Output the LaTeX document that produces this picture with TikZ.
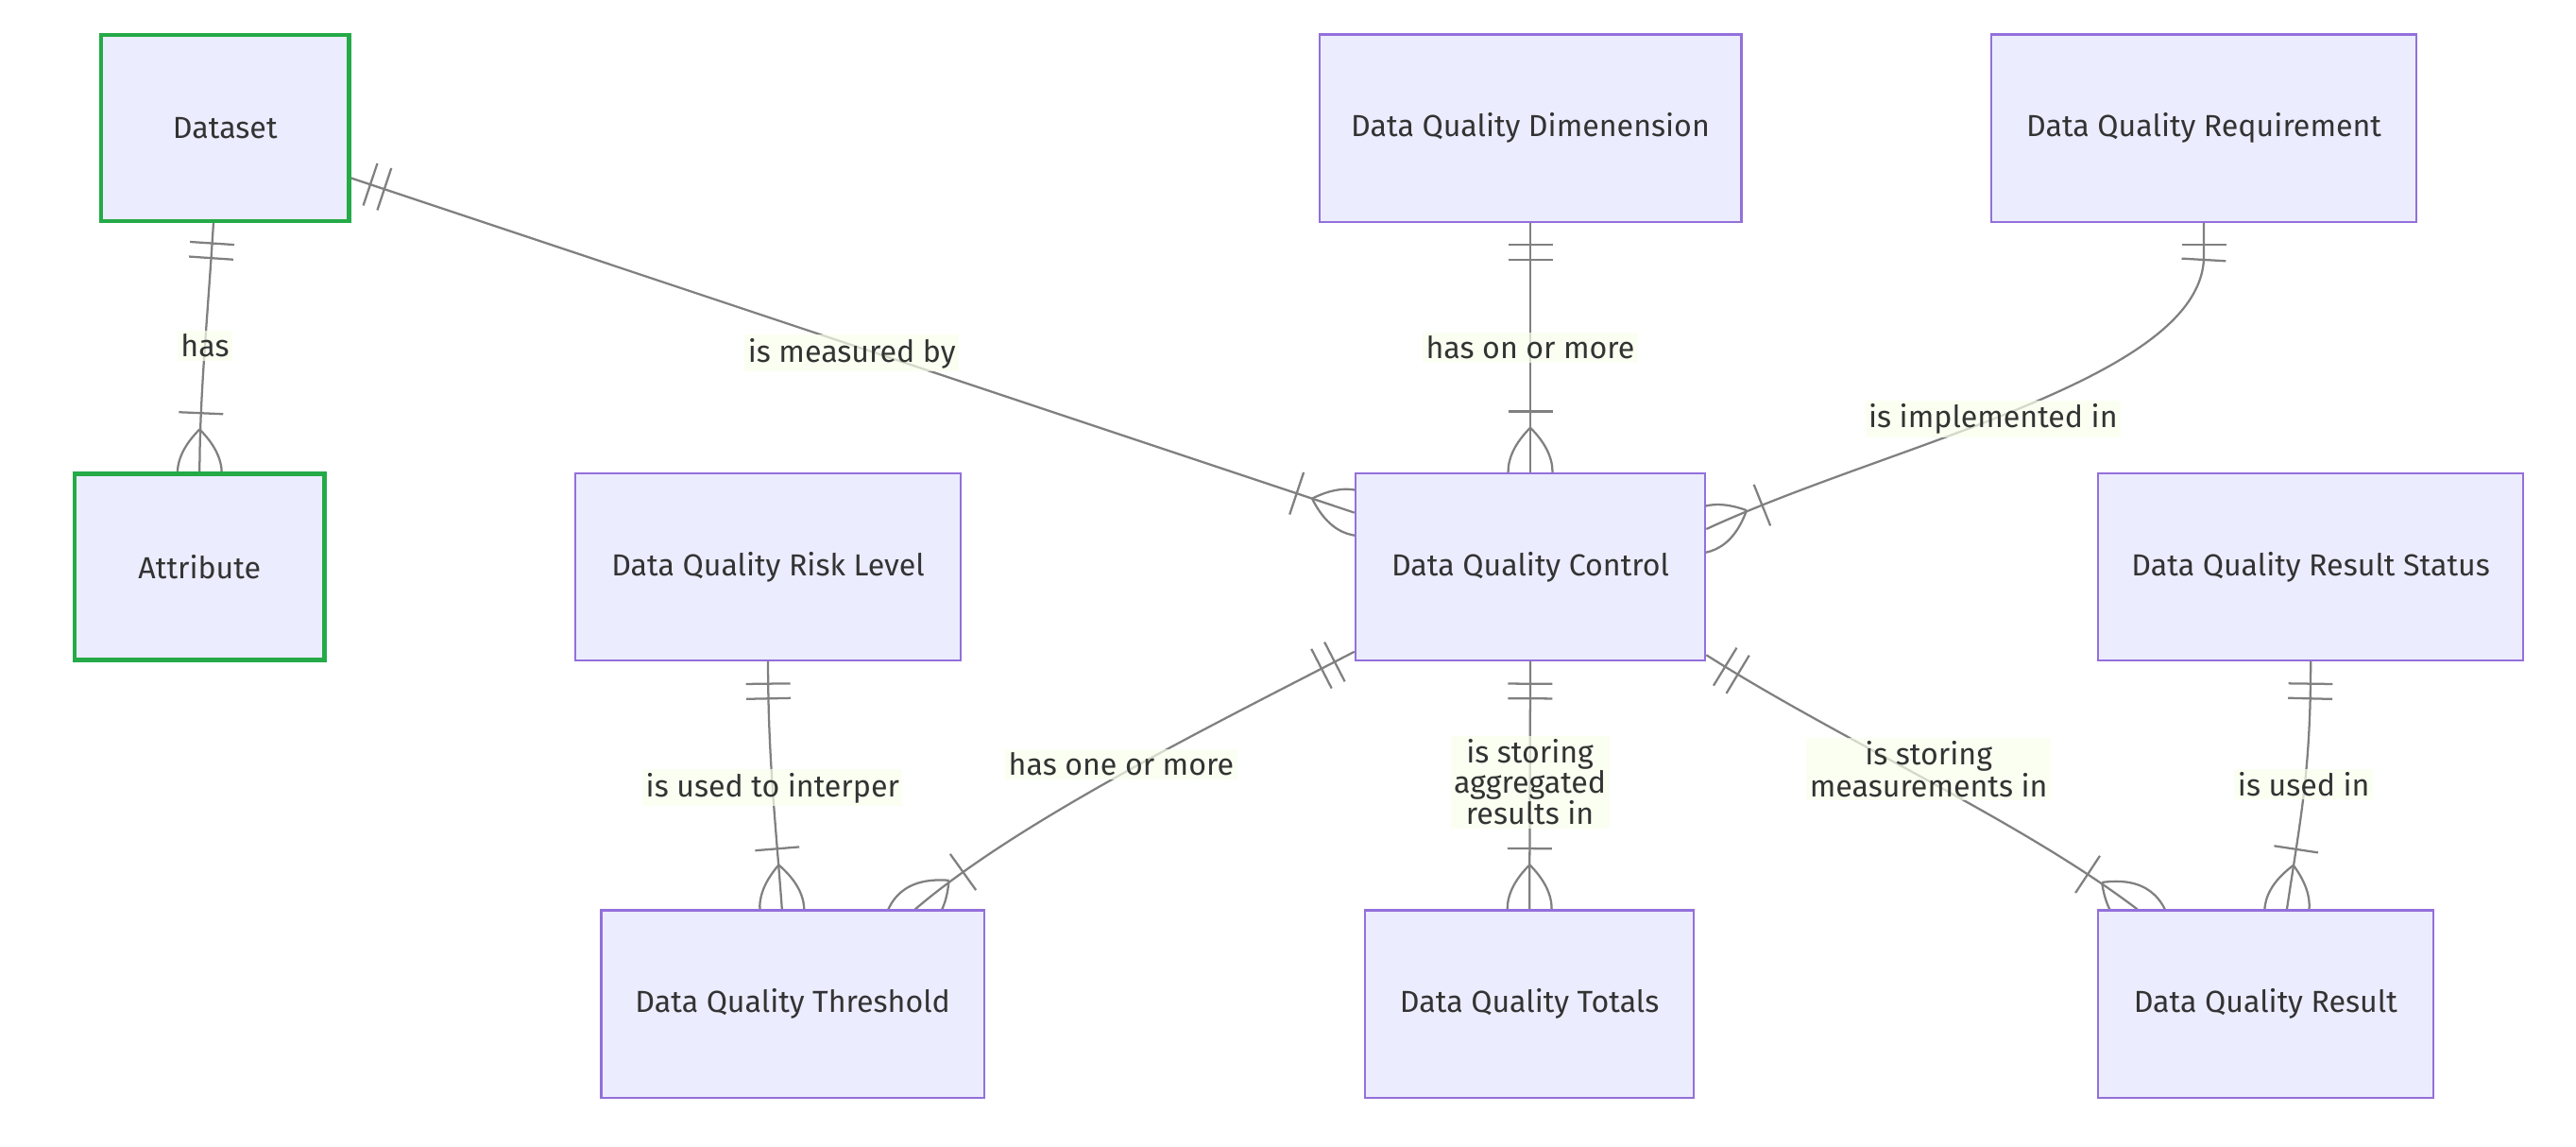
\documentclass[tikz,border=0pt]{standalone}
\usepackage{fontspec}
\setmainfont{Fira Sans}
\usetikzlibrary{decorations.markings}

\definecolor{boxfill}{HTML}{ECECFF}
\definecolor{boxline}{HTML}{9370DB}
\definecolor{keygreen}{RGB}{36,170,72}
\definecolor{relgray}{HTML}{808080}
\definecolor{lblbg}{HTML}{F9FFEC}
\definecolor{txt}{HTML}{333333}

\pgfdeclarelayer{background}
\pgfsetlayers{background,main}

\tikzset{
  entity/.style={draw=boxline, fill=boxfill, line width=1.2pt, text=txt,
    minimum height=114pt, inner sep=0pt, font=\fontsize{18.5}{22}\selectfont},
  keyframe/.style={draw=keygreen, line width=2.6pt},
  relline/.style={draw=relgray, line width=1.3pt},
  lbl/.style={fill=lblbg, fill opacity=0.7, text opacity=1, text=txt,
    inner sep=2pt, align=center, font=\fontsize{18.5}{18}\selectfont},
  only one/.style={postaction={decorate, decoration={markings,
      mark=at position 13.5pt with {\draw[relline] (0pt,-13.5pt) -- (0pt,13.5pt);},
      mark=at position 22.5pt with {\draw[relline] (0pt,-13.5pt) -- (0pt,13.5pt);}}}},
  one or more/.style={postaction={decorate, decoration={markings,
      mark=at position -37pt with {\draw[relline] (0pt,-13.5pt) -- (0pt,13.5pt);},
      mark=at position -0.1pt with {\draw[relline] (-27pt,0pt) .. controls (-9pt,18pt) and (9pt,18pt) .. (27pt,0pt)
        .. controls (9pt,-18pt) and (-9pt,-18pt) .. (-27pt,0pt);}}}},
  rel/.style={relline, only one, one or more},
}

\begin{document}
\begin{tikzpicture}[x=1pt, y=-1pt]
    \useasboundingbox (0,0) rectangle (1568,698);

    %% entities
    \node[entity, minimum width=150pt, minimum height=112pt] (dataset)   at (137,78)    {Dataset};
    \node[entity, minimum width=151pt, minimum height=112pt] (attribute) at (121.5,345) {Attribute};
    \node[entity, minimum width=257pt] (dimension)   at (931.5,78)   {Data Quality Dimenension};
    \node[entity, minimum width=259pt] (requirement) at (1341.5,78)  {Data Quality Requirement};
    \node[entity, minimum width=235pt] (risk)        at (467.5,345)  {Data Quality Risk Level};
    \node[entity, minimum width=213pt] (control)     at (931.5,345)  {Data Quality Control};
    \node[entity, minimum width=259pt] (status)      at (1406.5,345) {Data Quality Result Status};
    \node[entity, minimum width=233pt] (threshold)   at (482.5,611)  {Data Quality Threshold};
    \node[entity, minimum width=200pt] (totals)      at (931,611)    {Data Quality Totals};
    \node[entity, minimum width=204pt] (result)      at (1379,611)   {Data Quality Result};

    % key entities
    \draw[keyframe] (dataset.north west) rectangle (dataset.south east);
    \draw[keyframe] (attribute.north west) rectangle (attribute.south east);

    %% relations
    \begin{pgfonlayer}{background}
    \draw[rel] ([xshift=-7pt]dataset.south) .. controls +(-4,64) and +(0,-47) .. (attribute.north)
        node[lbl, pos=0.45] {has};
    \draw[rel] ([yshift=-30pt]dataset.east) -- ([yshift=33pt]control.west)
        node[lbl, pos=0.5, yshift=-5pt] {is measured by};
    \draw[rel] (dimension.south) -- (control.north)
        node[lbl, pos=0.5] {has on or more};
    \draw[rel] (requirement.south) -- ++(0,20) .. controls +(0,75) and +(112,-52) .. ([yshift=23pt]control.east)
        node[lbl, pos=0.55] {is implemented in};
    \draw[rel] (risk.south) .. controls +(0,58) and +(-4,-54) .. ([xshift=-6.5pt]threshold.north)
        node[lbl, pos=0.5] {is used to interper};
    \draw[rel] ([yshift=6pt]control.south west) .. controls +(-85,44) and +(63,-54) .. ([xshift=74.5pt]threshold.north)
        node[lbl, pos=0.5, yshift=6pt] {has one or more};
    \draw[rel] (control.south) -- (totals.north)
        node[lbl, pos=0.5, yshift=2pt] {is storing\\aggregated\\results in};
    \draw[rel] ([yshift=4pt]control.south east) .. controls +(82,52) and +(-71,-54) .. ([xshift=-78pt]result.north)
        node[lbl, pos=0.5, yshift=7pt] {is storing\\measurements in};
    \draw[rel] (status.south) .. controls +(0,68) and +(8,-54) .. ([xshift=13pt]result.north)
        node[lbl, pos=0.5, yshift=6pt] {is used in};
    \end{pgfonlayer}

\end{tikzpicture}
\end{document}
